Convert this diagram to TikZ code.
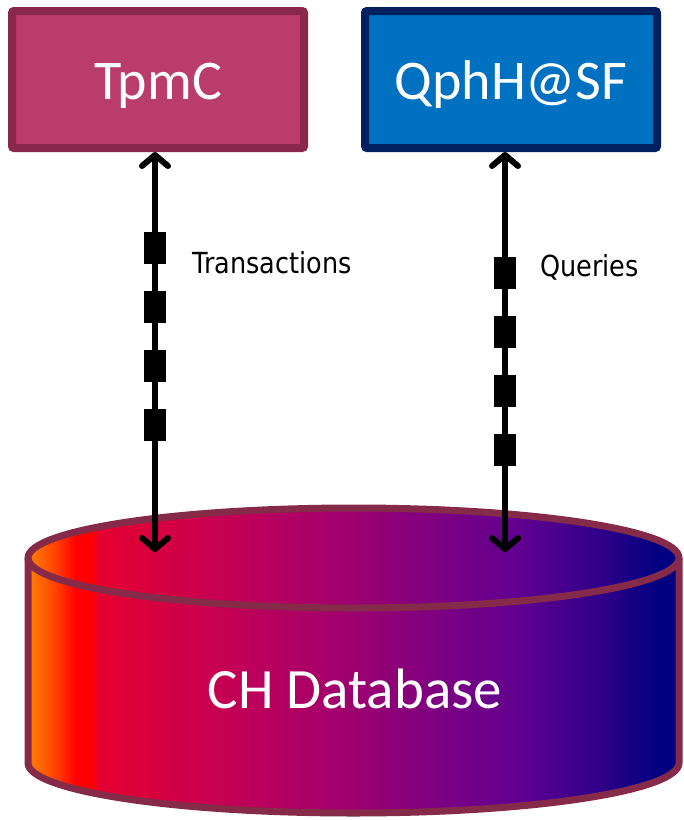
\documentclass[tikz,border=0pt]{standalone}
\usepackage{fontspec}
\setmainfont{Carlito}
\newfontfamily\lblfont[FakeStretch=0.88]{DejaVu Sans}
\usetikzlibrary{arrows.meta}

\definecolor{tpmfill}{RGB}{185,61,104}
\definecolor{tpmline}{RGB}{137,40,74}
\definecolor{qphfill}{RGB}{0,112,192}
\definecolor{qphline}{RGB}{0,32,96}
\definecolor{dbline}{RGB}{134,42,74}

% colour stops of the database gradient (left to right)
\definecolor{gA}{RGB}{255,128,0}
\definecolor{gB}{RGB}{255,70,0}
\definecolor{gC}{RGB}{255,0,0}
\definecolor{gD}{RGB}{228,0,48}
\definecolor{gE}{RGB}{195,0,85}
\definecolor{gF}{RGB}{165,0,108}
\definecolor{gG}{RGB}{128,0,128}
\definecolor{gH}{RGB}{96,0,144}
\definecolor{gI}{RGB}{48,0,136}
\definecolor{gJ}{RGB}{0,0,128}

\pgfdeclarehorizontalshading{dbgrad}{100bp}{%
  color(0bp)=(gA); color(25bp)=(gA); color(27bp)=(gB); color(28.7bp)=(gC);
  color(29.8bp)=(gC); color(30.5bp)=(gD); color(40.5bp)=(gE); color(48.2bp)=(gF);
  color(55.9bp)=(gG); color(62.8bp)=(gH); color(68.9bp)=(gI);
  color(73.5bp)=(gJ); color(100bp)=(gJ)}

\tikzset{
  metric/.style={rounded corners=2pt, line width=8pt, minimum width=292pt,
    minimum height=137pt, inner sep=0pt, text=white,
    text height=40pt, text depth=0pt,
    font=\fontsize{56}{60}\selectfont},
  barbtip/.tip={Straight Barb[length=11pt,width=26pt,line cap=round,line join=round]},
  flow/.style={line width=6pt, barbtip-barbtip},
  packet/.style={fill=black, draw=none, minimum width=22pt, minimum height=32pt, inner sep=0pt},
  flowlabel/.style={font=\lblfont\fontsize{29}{32}\selectfont, anchor=base west, inner sep=0pt},
  dbedge/.style={draw=dbline, line width=7pt, line join=round}
}

\begin{document}
\begin{tikzpicture}[x=1pt,y=-1pt]
  \useasboundingbox (0,0) rectangle (684,820);

  % benchmark metric boxes
  \node[metric, fill=tpmfill, draw=tpmline] (tpmc) at (158,79.5) {TpmC};
  \node[metric, fill=qphfill, draw=qphline] (qphh) at (511,79.5) {QphH@SF};

  % database cylinder: shaded body, then outline and top rim
  \shade[shading=dbgrad] (28,558) -- (28,763)
    arc[start angle=180, end angle=0, x radius=325.5, y radius=50]
    -- (679,558)
    arc[start angle=0, end angle=-180, x radius=325.5, y radius=50] -- cycle;
  \draw[dbedge] (28,558) -- (28,763)
    arc[start angle=180, end angle=0, x radius=325.5, y radius=50]
    -- (679,558);
  \draw[dbedge] (353.5,558) ellipse[x radius=325.5, y radius=50];
  \node[text=white, font=\fontsize{57}{60}\selectfont, anchor=base] (db) at (355,708) {CH Database};

  % arrow ends inside the top of the cylinder
  \coordinate (tin) at (155,552);
  \coordinate (qin) at (505,552);

  % transaction stream
  \draw[flow] (tin |- tpmc.south) -- (tin);
  \foreach \y [count=\i] in {248,307,366,425}
    \node[packet] (tp\i) at (155,\y) {};
  \node[flowlabel] (tlabel) at (192,273) {Transactions};

  % query stream
  \draw[flow] (qin |- qphh.south) -- (qin);
  \foreach \y [count=\i] in {273,332,391,450}
    \node[packet] (qp\i) at (505,\y) {};
  \node[flowlabel] (qlabel) at (540,276) {Queries};
\end{tikzpicture}
\end{document}
